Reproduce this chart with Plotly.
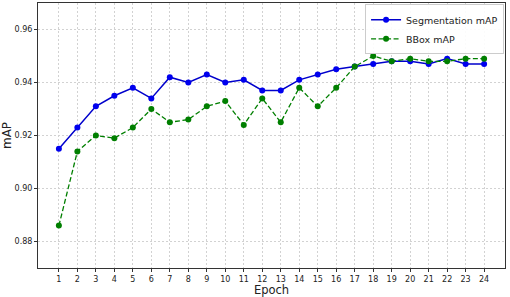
import plotly.graph_objects as go

epochs = list(range(1, 25))
seg_map = [0.915, 0.923, 0.931, 0.935, 0.938, 0.934, 0.942, 0.940, 0.943, 0.940, 0.941, 0.937,
           0.937, 0.941, 0.943, 0.945, 0.946, 0.947, 0.948, 0.948, 0.947, 0.949, 0.947, 0.947]
bbox_map = [0.886, 0.914, 0.920, 0.919, 0.923, 0.930, 0.925, 0.926, 0.931, 0.933, 0.924, 0.934,
            0.925, 0.938, 0.931, 0.938, 0.946, 0.950, 0.948, 0.949, 0.948, 0.948, 0.949, 0.949]
y_ticks = [0.88, 0.90, 0.92, 0.94, 0.96]

fig = go.Figure()
fig.add_trace(go.Scatter(x=epochs, y=seg_map, mode="lines+markers", name="Segmentation mAP",
                         line=dict(color="#0000cc", width=1.5),
                         marker=dict(color="#0000ee", size=6)))
fig.add_trace(go.Scatter(x=epochs, y=bbox_map, mode="lines+markers", name="BBox mAP",
                         line=dict(color="#007f00", width=1.3, dash="5px,2.5px"),
                         marker=dict(color="#007f00", size=6)))

font = "DejaVu Sans, sans-serif"
fig.update_layout(
    width=510, height=297,
    margin=dict(l=37, r=5, t=2, b=28),
    paper_bgcolor="white", plot_bgcolor="white",
    font=dict(family=font, color="#222", size=8),
    showlegend=True,
    legend=dict(x=0.998, y=0.995, xanchor="right", yanchor="top",
                bgcolor="rgba(255,255,255,0.9)", bordercolor="#cccccc", borderwidth=1,
                font=dict(size=9.5, family=font), itemwidth=30, tracegroupgap=0),
)
grid = dict(showgrid=True, gridcolor="#d2d2d2", griddash="2px,2px", gridwidth=0.8,
            showline=True, linecolor="#333", linewidth=1, mirror=True,
            ticks="outside", ticklen=3, tickcolor="#333", zeroline=False)
fig.update_xaxes(range=[-0.13, 25.13], tickvals=epochs, ticktext=[str(e) for e in epochs],
                 title=dict(text="Epoch", font=dict(size=11.5), standoff=3), **grid)
fig.update_yaxes(range=[0.87, 0.97], tickvals=y_ticks, ticktext=[f"{v:.2f}" for v in y_ticks],
                 title=dict(text="mAP", font=dict(size=12), standoff=4), **grid)
fig.write_html("out.html")
